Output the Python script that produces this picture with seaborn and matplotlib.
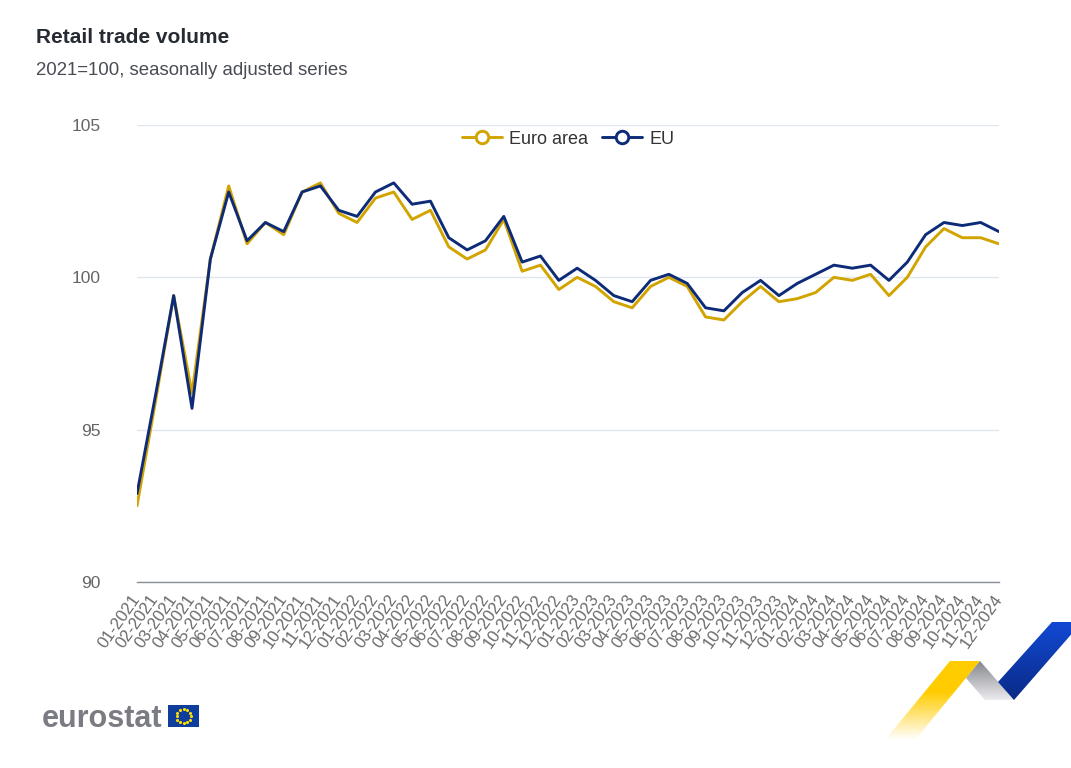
import numpy as np
import pandas as pd
import matplotlib
matplotlib.use("Agg")
from matplotlib import pyplot as plt
from matplotlib.lines import Line2D
from matplotlib.patches import Polygon, Rectangle
import seaborn as sns

# data (2021=100, seasonally adjusted)
months = [f"{m:02d}-{y}" for y in range(2021, 2025) for m in range(1, 13)]

euro_area = [92.5, 95.9, 99.4, 96.2, 100.6, 103.0, 101.1, 101.8, 101.4, 102.8, 103.1, 102.1,
             101.8, 102.6, 102.8, 101.9, 102.2, 101.0, 100.6, 100.9, 101.9, 100.2, 100.4, 99.6,
             100.0, 99.7, 99.2, 99.0, 99.7, 100.0, 99.7, 98.7, 98.6, 99.2, 99.7, 99.2,
             99.3, 99.5, 100.0, 99.9, 100.1, 99.4, 100.0, 101.0, 101.6, 101.3, 101.3, 101.1]

eu = [92.9, 96.1, 99.4, 95.7, 100.6, 102.8, 101.2, 101.8, 101.5, 102.8, 103.0, 102.2,
      102.0, 102.8, 103.1, 102.4, 102.5, 101.3, 100.9, 101.2, 102.0, 100.5, 100.7, 99.9,
      100.3, 99.9, 99.4, 99.2, 99.9, 100.1, 99.8, 99.0, 98.9, 99.5, 99.9, 99.4,
      99.8, 100.1, 100.4, 100.3, 100.4, 99.9, 100.5, 101.4, 101.8, 101.7, 101.8, 101.5]

series_names = ["Euro area", "EU"]
colors = {"Euro area": "#d2a400", "EU": "#0e2b78"}
y_ticks = [90, 95, 100, 105]

W, H = 1071, 768

df = pd.DataFrame({
    "idx": list(range(len(months))) * 2,
    "value": euro_area + eu,
    "series": ["Euro area"] * len(months) + ["EU"] * len(months),
})

sns.set_style("white")
plt.rcParams["font.family"] = ["Liberation Sans", "DejaVu Sans"]

fig = plt.figure(figsize=(W / 100, H / 100), dpi=100)

# decoration layer in pixel coords (logo + ribbon)
deco = fig.add_axes([0, 0, 1, 1])
deco.set_xlim(0, W)
deco.set_ylim(H, 0)
deco.axis("off")


def gradient_poly(pts, c_top, c_bot, a_top=1.0, a_bot=1.0, y_start=None):
    poly = Polygon(pts, closed=True, facecolor="none", edgecolor="none")
    deco.add_patch(poly)
    xs = [p[0] for p in pts]
    ys = [p[1] for p in pts]
    y0, y1 = min(ys), max(ys)
    t = np.linspace(0, 1, 200)[:, None]
    if y_start is not None:
        s = (y_start - y0) / (y1 - y0)
        t = np.clip((t - s) / (1 - s), 0, 1)
    ct = np.array(matplotlib.colors.to_rgb(c_top))
    cb = np.array(matplotlib.colors.to_rgb(c_bot))
    rgb = ct[None, None, :] * (1 - t[..., None]) + cb[None, None, :] * t[..., None]
    alpha = a_top * (1 - t) + a_bot * t
    img = np.concatenate([rgb, alpha[..., None]], axis=2)
    img = np.repeat(img, 2, axis=1)
    im = deco.imshow(img, extent=[min(xs), max(xs), y1, y0], aspect="auto", zorder=1)
    im.set_clip_path(poly)


gradient_poly([(950, 661), (980, 661), (915, 740), (885, 740)], "#ffcc00", "#ffcc00",
              1.0, 0.0, y_start=692)
gradient_poly([(980, 661), (1014, 700), (985, 700), (966, 678)], "#85868c", "#ececf0")
gradient_poly([(998, 682), (1052, 622), (1082, 622), (1014, 700)], "#1249d4", "#0a2a86")

deco.text(42, 727, "eurostat", fontsize=22, fontweight="bold", color="#7b7c83",
          va="baseline", ha="left")
deco.add_patch(Rectangle((168, 705), 31, 22, facecolor="#0f3d9c", edgecolor="none"))
ang = np.linspace(0, 2 * np.pi, 12, endpoint=False)
deco.scatter(183.5 + 7 * np.cos(ang), 716 + 7 * np.sin(ang), s=1.5, color="#ffdd00",
             zorder=3)

# titles
fig.text(36 / W, 1 - 43 / H, "Retail trade volume", fontsize=15, fontweight="bold",
         color="#262a33", va="baseline", ha="left")
fig.text(36 / W, 1 - 75 / H, "2021=100, seasonally adjusted series", fontsize=13.4,
         color="#4a4c55", va="baseline", ha="left")

# main chart
ax = fig.add_axes([137 / W, 1 - 582 / H, (999 - 137) / W, (582 - 125) / H])
ax.set_facecolor("none")
sns.lineplot(data=df, x="idx", y="value", hue="series", hue_order=series_names,
             palette=colors, linewidth=2.1, legend=False, ax=ax, zorder=3)

ax.set_xlim(0, len(months) - 1)
ax.set_ylim(90, 105)
ax.set_yticks(y_ticks)
ax.set_yticklabels([str(v) for v in y_ticks], fontsize=12.5, color="#666666")
ax.set_xticks(range(len(months)))
ax.set_xticklabels(months, fontsize=12, color="#6a6a6a", rotation=55,
                   ha="right", va="center", rotation_mode="anchor")
ax.set_xlabel("")
ax.set_ylabel("")

ax.grid(axis="y", color="#e0e6f0", linewidth=1)
ax.grid(axis="x", visible=False)
for side in ["top", "right", "left"]:
    ax.spines[side].set_visible(False)
ax.spines["bottom"].set_color("#8b8f99")
ax.spines["bottom"].set_linewidth(1)
ax.tick_params(axis="x", length=6, width=1, color="#8b8f99", direction="out", pad=4)
ax.tick_params(axis="y", length=0, pad=26)

handles = [Line2D([], [], color=colors[n], lw=2.1, marker="o", markersize=9,
                  markerfacecolor="white", markeredgewidth=2.1) for n in series_names]
ax.legend(handles, series_names, loc="center", bbox_to_anchor=(0.5, 0.969), ncol=2,
          frameon=False, fontsize=13, handlelength=2.2, handletextpad=0.4,
          columnspacing=0.8, labelcolor="#333333")

fig.savefig("out.png", dpi=100)
